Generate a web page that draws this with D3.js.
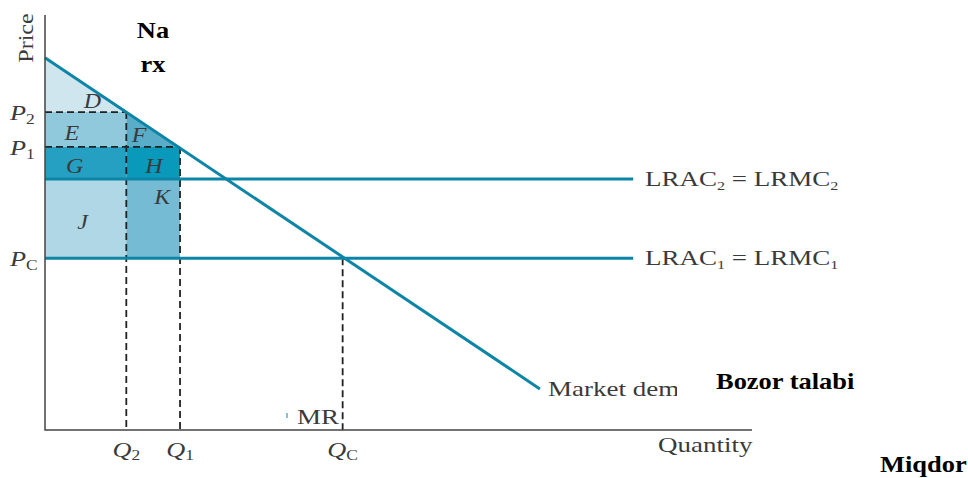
<!DOCTYPE html>
<html>
<head>
<meta charset="utf-8">
<script src="https://cdn.jsdelivr.net/npm/d3@7"></script>
<style>
  body { margin: 0; background: #fff; }
  svg text { font-family: "Liberation Serif", "DejaVu Serif", serif; }
  .lbl { fill: #3a3a3a; font-size: 20px; }
  .it { font-style: italic; }
  .bold { fill: #000; font-weight: bold; font-size: 23px; }
</style>
</head>
<body>
<div id="chart"></div>
<script>
// quantities (x) and prices (y) in chart units
const qTicks = [
  {name: "Q", sub: "2", q: 11.5},
  {name: "Q", sub: "1", q: 19.1},
  {name: "Q", sub: "C", q: 42.1},
]
const pTicks = [
  {name: "P", sub: "2", p: 76.6},
  {name: "P", sub: "1", p: 68.2},
  {name: "P", sub: "C", p: 41.4},
]
const demand = [[0, 89.7], [70, 9.9]];
const lrac2 = 60.5, lrac1 = 41.4, costEnd = 83.2;

// shaded areas: polygons in (q, p)
const areas = [
  {id: "D", fill: "#cfe6ee", pts: [[0, 89.7], [11.5, 76.6], [0, 76.6]], lab: [6.7, 77.6]},
  {id: "E", fill: "#90c9dc", pts: [[0, 76.6], [11.5, 76.6], [11.5, 68.2], [0, 68.2]], lab: [3.8, 69.9]},
  {id: "F", fill: "#5aadc9", pts: [[11.5, 76.6], [19.1, 68.2], [11.5, 68.2]], lab: [13.3, 69.4]},
  {id: "G", fill: "#25a0c2", pts: [[0, 68.2], [11.5, 68.2], [11.5, 60.5], [0, 60.5]], lab: [4.2, 62.0]},
  {id: "H", fill: "#0899bb", pts: [[11.5, 68.2], [19.1, 68.2], [19.1, 60.5], [11.5, 60.5]], lab: [15.4, 62.0]},
  {id: "J", fill: "#afd7e5", pts: [[0, 60.5], [11.5, 60.5], [11.5, 41.4], [0, 41.4]], lab: [5.3, 48.4]},
  {id: "K", fill: "#74bbd3", pts: [[11.5, 60.5], [19.1, 60.5], [19.1, 41.4], [11.5, 41.4]], lab: [16.6, 54.4]},
]

const blue = "#0d85a6";
const width = 968, height = 478;
const sx = 1.35; // the source type is stretched sideways

const x = d3.scaleLinear().domain([0, 100]).range([45, 752]);
const y = d3.scaleLinear().domain([0, 100]).range([430, 15]);

const svg = d3.select("#chart").append("svg")
    .attr("width", width)
    .attr("height", height);

const line = d3.line().x(d => x(d[0])).y(d => y(d[1]));

function stretched(parent, px, py, cls, s) {
  return parent.append("text")
      .attr("class", cls)
      .attr("transform", `translate(${px},${py}) scale(${s || sx},1)`);
}

svg.append("g")
    .selectAll("path")
    .data(areas)
  .enter().append("path")
    .attr("d", d => line(d.pts) + "Z")
    .attr("fill", d => d.fill);

// dashed guides
const dashes = [
  [[0, 76.6], [11.5, 76.6]],
  [[0, 68.2], [19.1, 68.2]],
  [[11.5, 76.6], [11.5, 0]],
  [[19.1, 68.2], [19.1, 0]],
  [[42.1, 41.4], [42.1, 0]],
]
svg.append("g")
    .selectAll("path")
    .data(dashes)
  .enter().append("path")
    .attr("d", line)
    .attr("fill", "none")
    .attr("stroke", "#222")
    .attr("stroke-width", 1.8)
    .attr("stroke-dasharray", "7,4");

// cost lines
svg.append("g")
    .selectAll("path")
    .data([lrac2, lrac1])
  .enter().append("path")
    .attr("d", d => line([[0, d], [costEnd, d]]))
    .attr("stroke", blue)
    .attr("stroke-width", 3);

// demand
svg.append("path")
    .attr("d", line(demand))
    .attr("stroke", blue)
    .attr("stroke-width", 3);

// axes
svg.append("path")
    .attr("d", line([[0, 100], [0, 0], [100, 0]]))
    .attr("fill", "none")
    .attr("stroke", "#444")
    .attr("stroke-width", 1.5);

// area letters
areas.forEach(d => {
  stretched(svg, x(d.lab[0]), y(d.lab[1]), "lbl it", 1.2)
      .attr("text-anchor", "middle")
      .attr("font-size", 20)
      .text(d.id);
});

// price ticks
pTicks.forEach(d => {
  const t = stretched(svg, 10, y(d.p) + 8, "lbl", 1.25);
  t.append("tspan").attr("class", "it").attr("font-size", 21).text(d.name);
  t.append("tspan").attr("font-size", 14).attr("dy", 4).text(d.sub);
});

// quantity ticks
qTicks.forEach(d => {
  const t = stretched(svg, x(d.q), 457, "lbl", 1.25).attr("text-anchor", "middle");
  t.append("tspan").attr("class", "it").attr("font-size", 21).text(d.name);
  t.append("tspan").attr("font-size", 14).attr("dy", 3).text(d.sub);
});

// cost labels
[{p: lrac2, s: "2"}, {p: lrac1, s: "1"}].forEach(d => {
  const t = stretched(svg, 645, y(d.p) + 7, "lbl");
  t.append("tspan").text("LRAC");
  t.append("tspan").attr("font-size", 12).attr("dy", 4).text(d.s);
  t.append("tspan").attr("dy", -4).text(" = LRMC");
  t.append("tspan").attr("font-size", 12).attr("dy", 4).text(d.s);
});

// axis titles
svg.append("text")
    .attr("class", "lbl")
    .attr("fill", "#555")
    .attr("transform", "translate(33,38) rotate(-90) scale(1.2,1)")
    .attr("text-anchor", "middle")
    .attr("font-size", 19)
    .text("Price");

stretched(svg, 658, 452, "lbl").text("Quantity");

svg.append("defs").append("clipPath")
    .attr("id", "mkt-clip")
  .append("rect")
    .attr("x", 540).attr("y", 370).attr("width", 137).attr("height", 40);

svg.append("g")
    .attr("clip-path", "url(#mkt-clip)")
    .call(g => stretched(g, 548, 396, "lbl").text("Market demand"));

stretched(svg, 297, 424, "lbl").text("MR");
svg.append("path")
    .attr("d", "M287,413V418")
    .attr("stroke", blue)
    .attr("stroke-width", 1);

// Uzbek captions
stretched(svg, 153, 38, "bold", 1.15).attr("text-anchor", "middle").attr("font-size", 24).text("Na");
stretched(svg, 153, 72, "bold", 1.15).attr("text-anchor", "middle").attr("font-size", 24).text("rx");
stretched(svg, 716, 389, "bold", 1.15).text("Bozor talabi");
stretched(svg, 880, 472, "bold", 1.15).text("Miqdor");
</script>
</body>
</html>
